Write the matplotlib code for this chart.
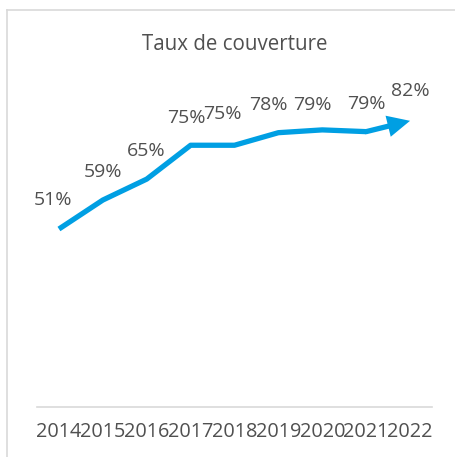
import matplotlib
matplotlib.use("Agg")
import matplotlib.pyplot as plt
from matplotlib.lines import Line2D

# data
years = ["2014", "2015", "2016", "2017", "2018", "2019", "2020", "2021", "2022"]
taux = [0.51, 0.593, 0.653, 0.75, 0.75, 0.786, 0.794, 0.789, 0.82]
labels = ["51%", "59%", "65%", "75%", "75%", "78%", "79%", "79%", "82%"]

# small manual nudges of the data labels (pixels), like in the original
label_dx = [-6, 0, -1, -4, -12, -10, -10, 0, 0]
label_dy = [29, 28, 28, 27, 31, 28, 25, 28, 30]

blue = "#009fe3"
grey_txt = "#505050"
plt.rcParams["font.family"] = ["Open Sans", "DejaVu Sans"]

W, H = 456, 457
fig = plt.figure(figsize=(W / 100, H / 100), dpi=100)

# chart area border: only the top and left edges are inside the crop
top_y = (H - 10) / H
left_x = 7 / W
fig.add_artist(Line2D([left_x, 1.0], [top_y, top_y], transform=fig.transFigure,
                      color="#d9d9d9", lw=1.2))
fig.add_artist(Line2D([left_x, left_x], [0.0, top_y], transform=fig.transFigure,
                      color="#d9d9d9", lw=1.2))

ax = fig.add_axes([37 / W, (H - 407) / H, (432 - 37) / W, (407 - 58) / H])
x = list(range(len(years)))

# line up to 2021, last segment = shaft + separate sharp arrow head
ax.plot(x[:-1], taux[:-1], color=blue, lw=3.8, solid_joinstyle="round", solid_capstyle="butt")
ax.annotate("", xy=(x[-1], taux[-1]), xytext=(x[-2], taux[-2]),
            arrowprops=dict(arrowstyle="-", color=blue, lw=3.8, shrinkA=0, shrinkB=11))
ax.annotate("", xy=(x[-1], taux[-1]), xytext=(x[-2], taux[-2]),
            arrowprops=dict(arrowstyle="-|>,head_length=1.25,head_width=0.6", color=blue,
                            lw=0, shrinkA=0, shrinkB=0, mutation_scale=13))

for i in x:
    ax.annotate(labels[i], (x[i], taux[i]), xytext=(label_dx[i], label_dy[i]),
                textcoords="offset pixels", ha="center", va="center",
                fontsize=14, color=grey_txt)

ax.set_xlim(-0.5, len(years) - 0.5)
ax.set_ylim(0, 1.0)
ax.set_xticks(x)
ax.set_xticklabels(years, fontsize=14.3, color=grey_txt)
ax.tick_params(axis="x", length=0, pad=11)
ax.set_yticks([])
for s in ["top", "right", "left"]:
    ax.spines[s].set_visible(False)
ax.spines["bottom"].set_color("#d9d9d9")
ax.spines["bottom"].set_linewidth(1.2)

fig.text(234.5 / W, (H - 45) / H, "Taux de couverture", ha="center", va="center",
         fontsize=14.8, color=grey_txt)

fig.savefig("out.png", dpi=100)
